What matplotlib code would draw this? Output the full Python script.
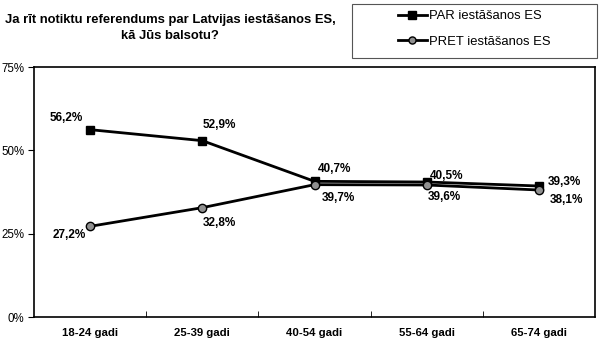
import matplotlib.pyplot as plt
from matplotlib.patches import Rectangle
from matplotlib.ticker import FuncFormatter

plt.rcParams['font.family'] = ['Liberation Sans', 'DejaVu Sans']

categories = ['18-24 gadi', '25-39 gadi', '40-54 gadi', '55-64 gadi', '65-74 gadi']
par_values = [56.2, 52.9, 40.7, 40.5, 39.3]
pret_values = [27.2, 32.8, 39.7, 39.6, 38.1]
par_label = 'PAR iestāšanos ES'
pret_label = 'PRET iestāšanos ES'
title = 'Ja rīt notiktu referendums par Latvijas iestāšanos ES,\nkā Jūs balsotu?'

W, H = 600, 344

# label offsets in pixels (dx, dy, ha)
par_offsets = [(-7, 12, 'right'), (0, 16, 'left'), (3, 12, 'left'), (3, 6, 'left'), (9, 4, 'left')]
pret_offsets = [(-4, -9, 'right'), (0, -15, 'left'), (7, -13, 'left'), (1, -12, 'left'), (11, -10, 'left')]


def fmt(v):
    return f"{v:.1f}%".replace('.', ',')


fig = plt.figure(figsize=(W / 100, H / 100), dpi=100)
ax = fig.add_axes([34 / W, 1 - 317 / H, 561 / W, 250 / H])

x = list(range(len(categories)))
ax.plot(x, par_values, color='black', lw=2, marker='s', ms=6,
        mfc='black', mec='black', label=par_label, zorder=3)
ax.plot(x, pret_values, color='black', lw=2, marker='o', ms=6,
        mfc='#909090', mec='black', label=pret_label, zorder=3)

for vals, offs in ((par_values, par_offsets), (pret_values, pret_offsets)):
    for i, v in enumerate(vals):
        dx, dy, ha = offs[i]
        ax.annotate(fmt(v), (i, v), xytext=(dx, dy), textcoords='offset pixels',
                    ha=ha, va='center', fontsize=8.5, fontweight='bold')

ax.set_xlim(-0.5, len(categories) - 0.5)
ax.set_ylim(0, 75)
ax.set_yticks([0, 25, 50, 75])
ax.yaxis.set_major_formatter(FuncFormatter(lambda v, p: f"{v:.0f}%"))
ax.set_xticks(x)
ax.set_xticklabels(categories, fontweight='bold', fontsize=8.2)
ax.set_xticks([i + 0.5 for i in range(len(categories) - 1)], minor=True)
ax.tick_params(axis='x', which='major', length=0, pad=8)
ax.tick_params(axis='x', which='minor', length=4, direction='in')
ax.tick_params(axis='y', labelsize=8.3, length=4, direction='out', pad=3)
for s in ax.spines.values():
    s.set_linewidth(1.2)

fig.text(170 / W, 1 - 28 / H, title, ha='center', va='center',
         fontsize=9.4, fontweight='bold', linespacing=1.45)

# legend box
fig.patches.append(Rectangle((352 / W, 1 - 58 / H), 245 / W, 54 / H,
                             transform=fig.transFigure, fill=False,
                             edgecolor='#555555', lw=0.8))
handles, labels = ax.get_legend_handles_labels()
leg = fig.legend(handles, labels, loc='upper left',
                 bbox_to_anchor=(398 / W, 1 - 10 / H), frameon=False,
                 fontsize=9.4, handlelength=2.2, handletextpad=0.2,
                 borderpad=0, borderaxespad=0, labelspacing=1.05,
                 markerscale=0.85)

fig.savefig('out.png', dpi=100)
